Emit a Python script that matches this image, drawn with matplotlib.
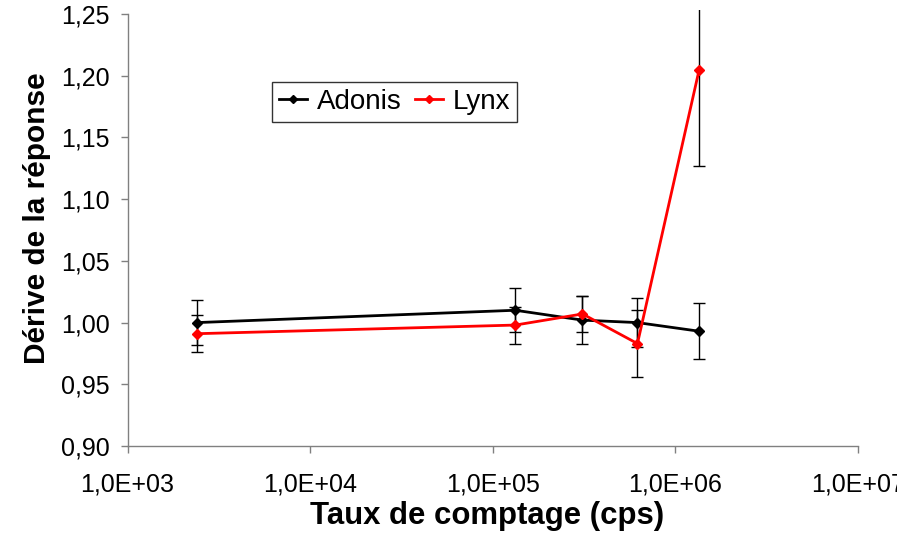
import matplotlib
matplotlib.use("Agg")
import matplotlib.pyplot as plt
from matplotlib.lines import Line2D
from matplotlib.transforms import Bbox, TransformedBbox
import numpy as np

# Data
rates = [2400, 1.33e5, 3.1e5, 6.2e5, 1.35e6]
adonis = [1.000, 1.010, 1.002, 1.000, 0.993]
adonis_err = [0.018, 0.018, 0.0195, 0.020, 0.0225]
lynx = [0.991, 0.998, 1.007, 0.983, 1.205]
lynx_err = [0.015, 0.015, 0.0145, 0.027, 0.078]

xticks = [1e3, 1e4, 1e5, 1e6, 1e7]
xtick_labels = ["1,0E+03", "1,0E+04", "1,0E+05", "1,0E+06", "1,0E+07"]
yticks = [0.90, 0.95, 1.00, 1.05, 1.10, 1.15, 1.20, 1.25]
ytick_labels = ["0,90", "0,95", "1,00", "1,05", "1,10", "1,15", "1,20", "1,25"]

plt.rcParams['font.family'] = ['Liberation Sans', 'DejaVu Sans']

fig = plt.figure(figsize=(9.17, 5.34), dpi=100)
ax = fig.add_axes([127.5/917, 1-446/534, (858-127.5)/917, 436/534])

ax.errorbar(rates, adonis, yerr=adonis_err, color='black', lw=2, marker='D', ms=5,
            ecolor='black', elinewidth=1, capsize=4, capthick=1, zorder=3)
ax.errorbar(rates, lynx, yerr=lynx_err, color='#ff0000', lw=2, marker='D', ms=5,
            ecolor='black', elinewidth=1, capsize=4, capthick=1, zorder=4)

ax.set_xscale('log')
ax.set_xlim(1e3, 1e7)
ax.set_ylim(0.90, 1.2533)
ax.set_xticks(xticks)
ax.set_xticklabels(xtick_labels)
ax.minorticks_off()
ax.set_yticks(yticks)
ax.set_yticklabels(ytick_labels)

for s in ['top', 'right']:
    ax.spines[s].set_visible(False)
for s in ['left', 'bottom']:
    ax.spines[s].set_color('#808080')
    ax.spines[s].set_linewidth(1)
ax.spines['left'].set_bounds(0.90, 1.25)

ax.tick_params(axis='both', direction='out', color='#808080', length=5, width=1,
               labelsize=18, labelcolor='black')
ax.tick_params(axis='y', pad=8)
ax.tick_params(axis='x', pad=14)

# the right-most tick label is cut by the chart area in the reference
clip = TransformedBbox(Bbox([[0, 0], [897/917, 1]]), fig.transFigure)
lbl = ax.get_xticklabels()[-1]
lbl.set_clip_box(clip)
lbl.set_clip_on(True)

ax.set_xlabel("Taux de comptage (cps)", fontsize=22.4, fontweight='bold')
ax.xaxis.set_label_coords((487.5 - 127.5) / 730.5, -(516 - 446) / 436, transform=ax.transAxes)
ax.xaxis.label.set_va('center')
ax.set_ylabel("Dérive de la réponse", fontsize=21.5, fontweight='bold')
ax.yaxis.set_label_coords(-(127.5 - 37) / 730.5, (446 - 218) / 436, transform=ax.transAxes)
ax.yaxis.label.set_va('center')

handles = [Line2D([], [], color='black', lw=2, marker='D', ms=4),
           Line2D([], [], color='#ff0000', lw=2, marker='D', ms=4)]
leg = ax.legend(handles, ["Adonis", "Lynx"], loc='upper left',
                bbox_to_anchor=((272-127.5)/730.5, (446-82)/436),
                ncol=2, fontsize=20, frameon=True, fancybox=False, edgecolor='black',
                handlelength=1.0, handletextpad=0.35, columnspacing=0.5, borderpad=0.25,
                borderaxespad=0)
leg.get_frame().set_linewidth(1)

fig.savefig("out.png", dpi=100)
